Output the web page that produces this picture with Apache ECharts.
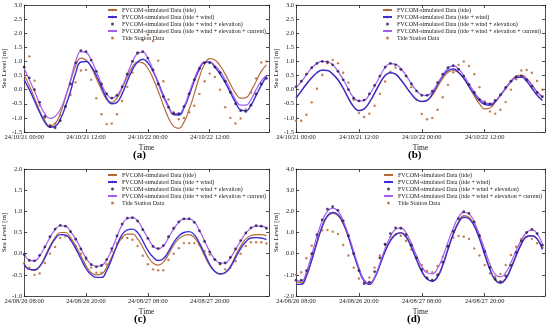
<!DOCTYPE html>
<html><head><meta charset="utf-8">
<script src="https://cdn.jsdelivr.net/npm/echarts@6/dist/echarts.min.js"></script>
<style>html,body{margin:0;padding:0;background:#fff}#c{width:550px;height:332px}</style>
</head><body><div id="c"></div>
<script>
const hours = [0,1,2,3,4,5,6,7,8,9,10,11,12,13,14,15,16,17,18,19,20,21,22,23,24,25,26,27,28,29,30,31,32,33,34,35,36,37,38,39,40,41,42,43,44,45,46,47];
const tickHours = [0,12,24,36];
const tickLabelsAB = ['24/10/21 00:00','24/10/21 12:00','24/10/22 00:00','24/10/22 12:00'];
const tickLabelsCD = ['24/08/26 08:00','24/08/26 20:00','24/08/27 08:00','24/08/27 20:00'];
const seriesNames = ['FVCOM-simulated Data (tide)','FVCOM-simulated Data (tide + wind)','FVCOM-simulated Data (tide + wind + elevation)','FVCOM-simulated Data (tide + wind + elevation + current)','Tide Station Data'];
const panelLabels = ['(a)','(b)','(c)','(d)'];

// Panel (a)
const aTide = [0.50,0.15,-0.30,-0.75,-1.10,-1.28,-1.20,-0.85,-0.30,0.30,0.85,1.12,1.05,0.80,0.40,0.00,-0.35,-0.45,-0.30,0.05,0.45,0.80,0.98,0.95,0.75,0.40,-0.05,-0.55,-1.00,-1.30,-1.37,-1.15,-0.70,-0.15,0.45,0.90,1.10,1.05,0.85,0.55,0.20,-0.12,-0.30,-0.28,-0.05,0.30,0.65,0.88];
const aWind = [0.35,0.00,-0.40,-0.80,-1.15,-1.33,-1.30,-1.05,-0.60,-0.05,0.60,0.98,1.00,0.82,0.50,0.10,-0.30,-0.50,-0.45,-0.15,0.30,0.70,0.98,1.08,0.95,0.65,0.25,-0.20,-0.60,-0.88,-0.90,-0.65,-0.20,0.30,0.72,0.97,0.98,0.80,0.55,0.25,-0.10,-0.45,-0.72,-0.75,-0.55,-0.20,0.15,0.48];
const aElev = [0.80,0.42,0.00,-0.45,-0.95,-1.30,-1.35,-1.10,-0.60,0.20,0.95,1.38,1.35,1.05,0.65,0.20,-0.15,-0.30,-0.20,0.10,0.55,1.00,1.30,1.35,1.12,0.70,0.20,-0.25,-0.62,-0.85,-0.85,-0.60,-0.15,0.35,0.75,0.95,0.95,0.80,0.60,0.30,-0.10,-0.50,-0.75,-0.77,-0.55,-0.15,0.20,0.40];
const aCurr = [0.75,0.35,-0.05,-0.50,-0.85,-1.02,-0.95,-0.70,-0.25,0.35,1.00,1.35,1.32,1.05,0.65,0.20,-0.15,-0.30,-0.20,0.10,0.55,0.98,1.28,1.33,1.10,0.70,0.20,-0.25,-0.62,-0.85,-0.85,-0.60,-0.12,0.38,0.78,0.98,0.98,0.85,0.65,0.35,0.00,-0.35,-0.55,-0.55,-0.35,0.00,0.30,0.50];
const aStation = [0.80,1.18,0.32,-0.55,-1.00,-1.25,-1.20,-0.90,-0.60,-0.18,0.26,0.68,0.70,0.35,-0.30,-0.87,-1.22,-1.20,-0.87,-0.40,0.10,0.60,1.30,1.75,1.95,1.72,1.03,0.30,-0.35,-0.80,-1.05,-1.00,-0.80,-0.57,-0.15,0.30,0.57,0.45,0.00,-0.62,-1.00,-1.20,-1.02,-0.70,-0.10,0.40,0.96,1.00];

// Panel (b)
const bTide = [-0.30,-0.05,0.20,0.42,0.60,0.69,0.68,0.55,0.35,0.05,-0.30,-0.60,-0.74,-0.68,-0.45,-0.12,0.22,0.50,0.60,0.55,0.35,0.10,-0.15,-0.35,-0.42,-0.38,-0.20,0.10,0.40,0.62,0.68,0.60,0.40,0.10,-0.22,-0.50,-0.68,-0.65,-0.45,-0.20,0.05,0.30,0.48,0.52,0.40,0.18,-0.08,-0.28];
const bWind = [-0.30,-0.05,0.20,0.42,0.60,0.69,0.68,0.55,0.35,0.05,-0.30,-0.60,-0.74,-0.68,-0.45,-0.12,0.22,0.50,0.60,0.55,0.35,0.10,-0.15,-0.35,-0.42,-0.38,-0.15,0.18,0.48,0.68,0.73,0.62,0.40,0.12,-0.15,-0.38,-0.52,-0.55,-0.42,-0.20,0.05,0.28,0.43,0.45,0.30,0.05,-0.20,-0.38];
const bElev = [0.10,0.30,0.55,0.78,0.93,1.00,0.98,0.88,0.65,0.35,0.00,-0.30,-0.40,-0.37,-0.15,0.15,0.48,0.80,0.93,0.88,0.72,0.48,0.20,-0.05,-0.20,-0.20,-0.05,0.25,0.55,0.78,0.85,0.72,0.48,0.18,-0.10,-0.35,-0.48,-0.50,-0.38,-0.18,0.08,0.30,0.45,0.48,0.35,0.12,-0.10,-0.25];
const bCurr = [0.08,0.28,0.53,0.77,0.93,1.00,0.99,0.88,0.66,0.36,0.02,-0.28,-0.40,-0.38,-0.17,0.13,0.47,0.78,0.92,0.90,0.74,0.50,0.22,-0.03,-0.18,-0.20,-0.07,0.22,0.52,0.76,0.84,0.74,0.50,0.20,-0.08,-0.32,-0.46,-0.50,-0.40,-0.20,0.06,0.28,0.44,0.48,0.37,0.15,-0.08,-0.24];
const bStation = [-1.10,-1.10,-0.89,-0.45,0.03,0.52,0.94,1.05,0.94,0.60,0.25,-0.36,-0.83,-0.97,-0.85,-0.57,-0.15,0.29,0.64,0.78,0.72,0.49,0.09,-0.36,-0.86,-1.05,-1.00,-0.71,-0.27,0.17,0.61,0.88,1.00,0.84,0.55,0.09,-0.42,-0.77,-0.85,-0.71,-0.44,0.00,0.37,0.68,0.70,0.60,0.31,0.00];

// Panel (c)
const cTide = [-0.25,-0.37,-0.40,-0.30,-0.08,0.18,0.38,0.50,0.50,0.38,0.18,-0.05,-0.28,-0.45,-0.50,-0.48,-0.32,-0.08,0.18,0.38,0.46,0.46,0.35,0.15,-0.07,-0.22,-0.27,-0.20,-0.02,0.20,0.35,0.43,0.45,0.38,0.20,-0.05,-0.28,-0.42,-0.48,-0.45,-0.30,-0.05,0.18,0.35,0.43,0.45,0.45,0.42];
const cWind = [-0.25,-0.37,-0.38,-0.30,-0.10,0.15,0.35,0.45,0.44,0.32,0.12,-0.12,-0.35,-0.50,-0.56,-0.56,-0.40,-0.12,0.20,0.45,0.56,0.58,0.50,0.30,0.08,-0.08,-0.16,-0.12,0.05,0.26,0.42,0.50,0.52,0.45,0.25,0.00,-0.25,-0.42,-0.48,-0.45,-0.32,-0.10,0.12,0.28,0.37,0.38,0.37,0.33];
const cElev = [-0.02,-0.16,-0.17,-0.04,0.16,0.40,0.58,0.67,0.65,0.52,0.34,0.11,-0.10,-0.26,-0.31,-0.28,-0.14,0.12,0.42,0.70,0.84,0.85,0.77,0.57,0.36,0.17,0.12,0.19,0.40,0.60,0.75,0.82,0.82,0.74,0.54,0.29,0.04,-0.14,-0.23,-0.22,-0.09,0.11,0.31,0.49,0.61,0.66,0.65,0.60];
const cCurr = [0.00,-0.15,-0.17,-0.05,0.15,0.38,0.57,0.66,0.65,0.52,0.35,0.12,-0.10,-0.25,-0.30,-0.28,-0.15,0.10,0.40,0.68,0.83,0.85,0.78,0.58,0.37,0.18,0.12,0.18,0.38,0.58,0.74,0.82,0.82,0.75,0.55,0.30,0.05,-0.13,-0.22,-0.22,-0.10,0.10,0.30,0.48,0.60,0.65,0.65,0.60];
const cStation = [-0.22,-0.33,-0.50,-0.47,-0.22,0.00,0.16,0.37,0.41,0.33,0.18,0.00,-0.14,-0.33,-0.45,-0.45,-0.25,0.06,0.24,0.37,0.37,0.33,0.18,-0.05,-0.25,-0.37,-0.39,-0.39,-0.15,0.00,0.13,0.25,0.25,0.25,0.21,0.06,-0.02,-0.14,-0.25,-0.37,-0.33,-0.18,0.00,0.18,0.27,0.27,0.27,0.24];

// Panel (d)
const dTide = [-1.30,-1.38,-1.00,-0.30,0.50,1.25,1.75,1.90,1.80,1.40,0.78,0.00,-0.72,-1.25,-1.40,-1.12,-0.52,0.12,0.62,0.92,1.00,0.82,0.35,-0.25,-0.80,-1.18,-1.28,-1.05,-0.50,0.25,0.95,1.50,1.80,1.72,1.35,0.75,0.00,-0.72,-1.22,-1.35,-1.15,-0.65,-0.05,0.50,0.82,0.85,0.70,0.25];
const dWind = [-1.45,-1.45,-1.05,-0.30,0.55,1.30,1.80,1.95,1.85,1.45,0.80,0.00,-0.75,-1.30,-1.45,-1.15,-0.55,0.10,0.60,0.90,0.98,0.78,0.30,-0.30,-0.85,-1.20,-1.30,-1.10,-0.55,0.20,0.90,1.45,1.72,1.65,1.30,0.70,-0.05,-0.75,-1.25,-1.40,-1.20,-0.70,-0.10,0.45,0.80,0.85,0.70,0.20];
const dElev = [-1.25,-1.25,-0.80,0.00,0.90,1.60,2.10,2.22,2.05,1.55,0.85,0.00,-0.80,-1.42,-1.35,-0.85,-0.20,0.45,0.95,1.22,1.20,0.90,0.40,-0.20,-0.75,-1.15,-1.25,-1.00,-0.40,0.35,1.05,1.65,1.98,1.90,1.50,0.85,0.10,-0.65,-1.20,-1.32,-1.05,-0.55,0.05,0.60,1.00,1.15,0.95,0.40];
const dCurr = [-1.30,-1.30,-0.85,-0.05,0.82,1.55,2.00,2.15,2.02,1.55,0.90,0.12,-0.65,-1.25,-1.40,-1.10,-0.45,0.25,0.80,1.15,1.22,0.98,0.50,-0.10,-0.60,-0.90,-0.95,-0.70,-0.15,0.55,1.20,1.72,1.95,1.88,1.50,0.90,0.20,-0.50,-0.98,-1.10,-0.90,-0.42,0.15,0.65,1.00,1.12,0.95,0.45];
const dStation = [-1.00,-0.88,-0.22,0.38,0.80,1.10,1.12,1.04,0.93,0.41,-0.09,-0.66,-1.17,-1.35,-1.13,-0.66,-0.09,0.41,0.80,0.91,0.85,0.60,0.20,-0.20,-0.54,-0.82,-0.88,-0.58,-0.14,0.33,0.76,0.84,0.80,0.69,0.25,-0.09,-0.54,-0.93,-1.09,-0.96,-0.54,-0.06,0.33,0.69,0.80,0.70,0.49,0.28];

const FONT = 'Liberation Serif';
const INK = '#222';
const C_TIDE = '#b66a3a', C_WIND = '#3b2fd2', C_ELEV = '#24174e', C_CURR = '#a35ef0', C_STAT = '#b0602c';

const panels = [
  {g:[22,5,247,127],  y:[-1.5,3,0.5], lab:tickLabelsAB, d:[aTide,aWind,aElev,aCurr,aStation], leg:[107,7],   t:[133,150]},
  {g:[296,5,249,127], y:[-1.5,3,0.5], lab:tickLabelsAB, d:[bTide,bWind,bElev,bCurr,bStation], leg:[382,7],   t:[408,150]},
  {g:[22,169,247,127],y:[-1,2,0.5],   lab:tickLabelsCD, d:[cTide,cWind,cElev,cCurr,cStation], leg:[107,172], t:[134,314]},
  {g:[296,169,249,127],y:[-2,4,1],    lab:tickLabelsCD, d:[dTide,dWind,dElev,dCurr,dStation], leg:[383,172], t:[407,314]}
];

const option = {animation:false, backgroundColor:'#fff', grid:[], xAxis:[], yAxis:[], series:[], legend:[], title:[]};
const lineW = 0.8;
panels.forEach((p,i)=>{
  option.grid.push({left:p.g[0], top:p.g[1], width:p.g[2], height:p.g[3], show:false});
  const xCommon = {gridIndex:i, type:'value', min:0, max:47.5, interval:12,
    axisLine:{onZero:false, lineStyle:{color:INK,width:lineW}},
    axisTick:{inside:true,length:3,lineStyle:{color:INK,width:lineW}},
    splitLine:{show:false}};
  option.xAxis.push(Object.assign({}, xCommon, {position:'bottom',
    axisLabel:{fontFamily:FONT,fontSize:6.5,color:INK,margin:2,
      formatter:v=>{const k=tickHours.indexOf(v);return k>=0?p.lab[k]:'';}},
    name:'Time', nameLocation:'middle', nameGap:12,
    nameTextStyle:{fontFamily:FONT,fontSize:7.5,color:INK}}));
  option.xAxis.push(Object.assign({}, xCommon, {position:'top', axisLabel:{show:false}}));
  const yCommon = {gridIndex:i, type:'value', min:p.y[0], max:p.y[1], interval:p.y[2],
    axisLine:{show:true,onZero:false, lineStyle:{color:INK,width:lineW}},
    axisTick:{show:true,inside:true,length:3,lineStyle:{color:INK,width:lineW}},
    splitLine:{show:false}};
  option.yAxis.push(Object.assign({}, yCommon, {position:'left',
    axisLabel:{fontFamily:FONT,fontSize:6.5,color:INK,margin:2,formatter:v=>v.toFixed(1)},
    name:'Sea Level [m]', nameLocation:'middle', nameGap:11,
    nameTextStyle:{fontFamily:FONT,fontSize:7,color:INK}}));
  option.yAxis.push(Object.assign({}, yCommon, {position:'right', axisLabel:{show:false}}));
  const xi = 2*i, yi = 2*i;
  const pts = arr => hours.map((h,k)=>[h, arr[k]]);
  option.series.push({name:seriesNames[0], type:'line', xAxisIndex:xi, yAxisIndex:yi, data:pts(p.d[0]), symbol:'none', smooth:true,
    lineStyle:{color:C_TIDE,width:1.2}, itemStyle:{color:C_TIDE}, z:2});
  option.series.push({name:seriesNames[1], type:'line', xAxisIndex:xi, yAxisIndex:yi, data:pts(p.d[1]), symbol:'none', smooth:true,
    lineStyle:{color:C_WIND,width:1.4}, itemStyle:{color:C_WIND}, z:3});
  option.series.push({name:seriesNames[2], type:'scatter', xAxisIndex:xi, yAxisIndex:yi, data:pts(p.d[2]), symbol:'circle', symbolSize:2.8,
    itemStyle:{color:C_ELEV}, z:5});
  option.series.push({name:seriesNames[3], type:'line', xAxisIndex:xi, yAxisIndex:yi, data:pts(p.d[3]), symbol:'none', smooth:true,
    lineStyle:{color:C_CURR,width:1.2}, itemStyle:{color:C_CURR}, z:4});
  option.series.push({name:seriesNames[4], type:'scatter', xAxisIndex:xi, yAxisIndex:yi, data:pts(p.d[4]), symbol:'circle', symbolSize:2.4,
    itemStyle:{color:C_STAT}, z:1});
  option.legend.push({left:p.leg[0], top:p.leg[1], orient:'vertical', padding:0, itemGap:1, itemWidth:9, itemHeight:3,
    selectedMode:false, textStyle:{fontFamily:FONT,fontSize:6,color:INK},
    data:[{name:seriesNames[0]},{name:seriesNames[1]},{name:seriesNames[2],icon:'circle'},{name:seriesNames[3]},{name:seriesNames[4],icon:'circle'}]});
  option.title.push({text:panelLabels[i], left:p.t[0], top:p.t[1], padding:0,
    textStyle:{fontFamily:FONT,fontSize:11,fontWeight:'bold',color:'#000'}});
});

const chart = echarts.init(document.getElementById('c'), null, {renderer:'canvas'});
chart.setOption(option);
</script>
</body></html>
